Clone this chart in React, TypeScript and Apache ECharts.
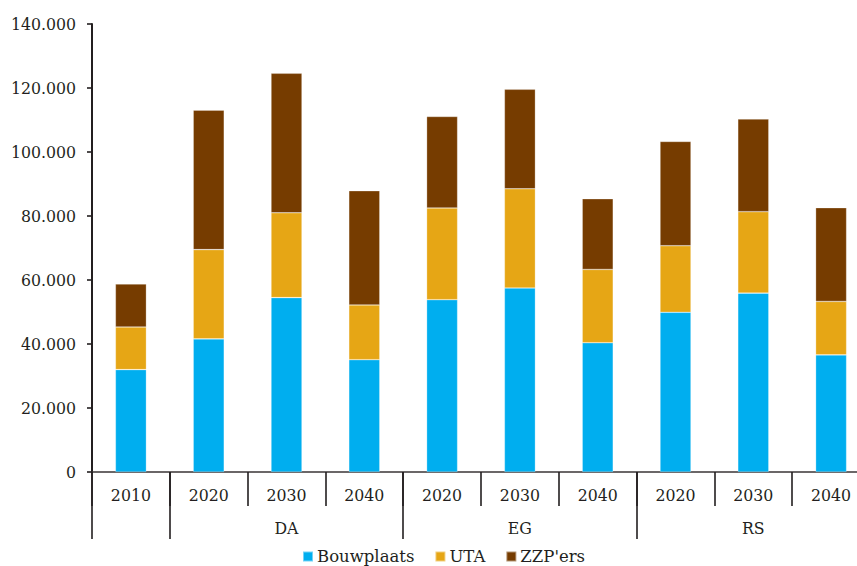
import React, { useEffect, useRef } from "react";
import * as echarts from "echarts";

// Jaartallen per scenario (eerste kolom is het basisjaar)
const years = ["2010", "2020", "2030", "2040", "2020", "2030", "2040", "2020", "2030", "2040"];
// Scenario-groepen: label en positie (midden van de groep op de 0..10 schaal)
const groupLabels = ["DA", "EG", "RS"];
const groupCenters = [2.5, 5.5, 8.5];
const groupBounds = [0, 1, 4, 7, 10];

const bouwplaats = [32000, 41600, 54500, 35100, 53850, 57500, 40400, 49900, 55900, 36600];
const uta = [13300, 27900, 26500, 17100, 28650, 31000, 22900, 20800, 25450, 16700];
const zzp = [13450, 43600, 43600, 35700, 28600, 31100, 22100, 32600, 28950, 29300];

const seriesNames = ["Bouwplaats", "UTA", "ZZP'ers"];
const colors = ["#00AEEF", "#E6A615", "#763C00"];

const FONT = "'DejaVu Serif Condensed', 'DejaVu Serif', serif";
const LEGEND_FONT = "'DejaVu Serif', serif";
const TEXT = "#231F20";

const fmt = (v: number) => String(Math.round(v)).replace(/\B(?=(\d{3})+(?!\d))/g, ".");

export default function App() {
  const ref = useRef<HTMLDivElement>(null);

  useEffect(() => {
    if (!ref.current) return;
    const chart = echarts.init(ref.current, undefined, { renderer: "svg" });
    const seriesData = [bouwplaats, uta, zzp];
    chart.setOption({
      animation: false,
      color: colors,
      grid: { left: 92, top: 24, bottom: 94, width: 778, containLabel: false },
      legend: {
        data: seriesNames,
        left: 302,
        top: 548,
        padding: 0,
        icon: "rect",
        itemWidth: 10,
        itemHeight: 10,
        itemGap: 20,
        textStyle: { fontFamily: LEGEND_FONT, fontSize: 16.5, color: TEXT, padding: [0, 0, 0, -1] },
      },
      xAxis: [
        {
          type: "category",
          data: years,
          position: "bottom",
          axisLine: { show: true, lineStyle: { color: "#3A3536", width: 1.6 } },
          axisTick: { show: true, interval: 0, length: 34, lineStyle: { color: TEXT, width: 1.6 } },
          axisLabel: { interval: 0, margin: 14, fontFamily: FONT, fontSize: 17.5, color: TEXT },
          splitLine: { show: false },
        },
        {
          type: "value",
          min: 0,
          max: 10,
          position: "bottom",
          axisLine: { show: false },
          axisTick: {
            show: true,
            customValues: groupBounds,
            length: 67,
            lineStyle: { color: TEXT, width: 1.6 },
          },
          axisLabel: {
            customValues: groupCenters,
            margin: 47,
            fontFamily: FONT,
            fontSize: 17.5,
            color: TEXT,
            formatter: (v: number) => {
              const i = groupCenters.indexOf(v);
              return i >= 0 ? groupLabels[i] : "";
            },
          },
          splitLine: { show: false },
        },
      ],
      yAxis: {
        type: "value",
        min: 0,
        max: 140000,
        interval: 20000,
        axisLine: { show: true, lineStyle: { color: TEXT, width: 2 } },
        axisTick: { show: true, length: 5, lineStyle: { color: TEXT, width: 1.6 } },
        axisLabel: {
          margin: 16,
          fontFamily: FONT,
          fontSize: 17.5,
          color: TEXT,
          formatter: (v: number) => fmt(v),
        },
        splitLine: { show: false },
      },
      series: seriesNames.map((name, i) => ({
        name,
        type: "bar",
        stack: "totaal",
        xAxisIndex: 0,
        barWidth: 31,
        data: seriesData[i],
        itemStyle: {
          color: colors[i],
          borderColor: "rgba(255,255,255,0.45)",
          borderWidth: 0.6,
        },
      })),
    });
    return () => chart.dispose();
  }, []);

  // The plot area runs past the right edge of the frame, so the chart canvas
  // is wider than the visible window and the overflow is clipped.
  return (
    <div style={{ position: "absolute", left: 0, top: 0, width: 857, height: 566, overflow: "hidden" }}>
      <div ref={ref} style={{ width: 890, height: 566 }} />
    </div>
  );
}
